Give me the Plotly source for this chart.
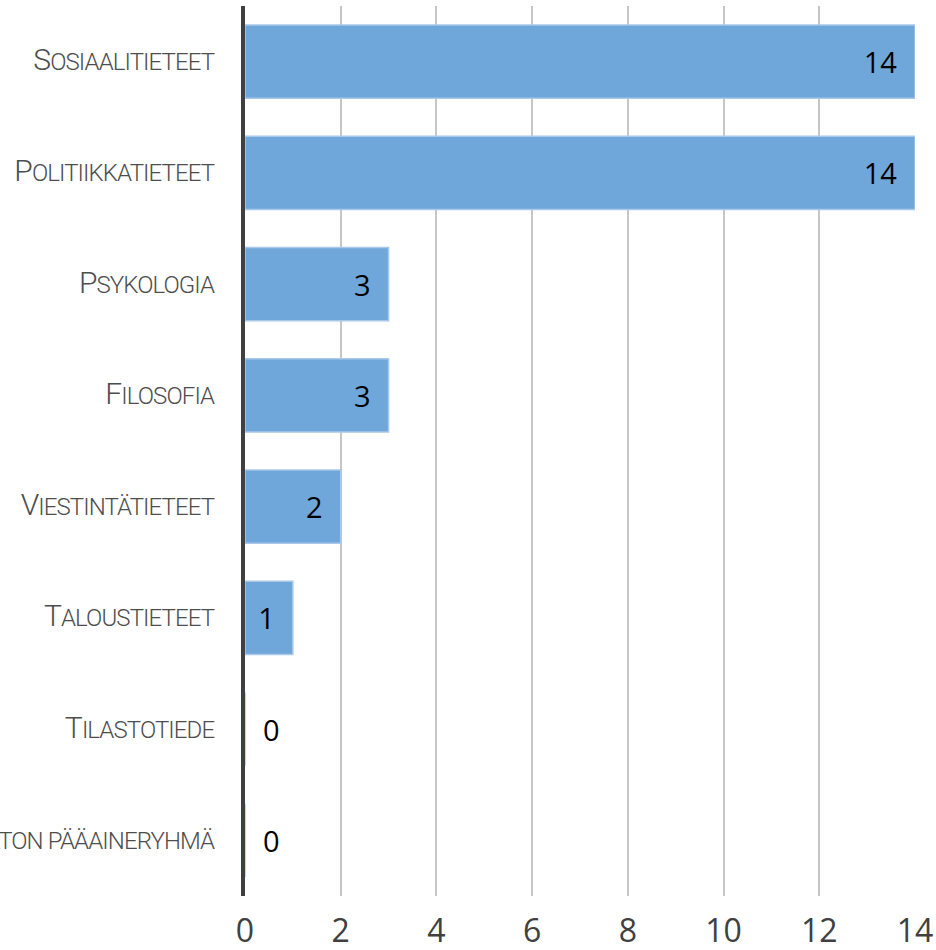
import plotly.graph_objects as go

# pääaineryhmät ja vastaajien määrät
categories = ["Sosiaalitieteet", "Politiikkatieteet", "Psykologia", "Filosofia",
              "Viestintätieteet", "Taloustieteet", "Tilastotiede",
              "Tuntematon pääaineryhmä"]
counts = [14, 14, 3, 3, 2, 1, 0, 0]
x_ticks = [0, 2, 4, 6, 8, 10, 12, 14]


def small_caps(s):
    # iso alkukirjain, loput pienempinä versaaleina
    return ("<span style='font-size:30px;letter-spacing:-0.9px'>" + s[0].upper()
            + "</span><span style='letter-spacing:-0.9px'>" + s[1:].upper()
            + "</span>")


nb = "\u00a0"
labels = []
positions = []
for v in counts:
    if v > 0:
        labels.append(str(v) + nb * 2)
        positions.append("inside")
    else:
        labels.append(nb * 2 + str(v))
        positions.append("outside")

fig = go.Figure()
fig.add_trace(go.Bar(
    y=categories, x=counts, orientation="h",
    marker=dict(color="#6fa7db", line=dict(color="#a9c8ea", width=1.5)),
    width=0.66,
    text=labels, textposition=positions, insidetextanchor="end",
    textfont=dict(family="Open Sans", size=29, color="#000000"),
    cliponaxis=False,
))

fig.update_layout(
    width=936, height=950,
    margin=dict(l=245, r=21, t=6, b=54),
    plot_bgcolor="white", paper_bgcolor="white",
    showlegend=False,
)

fig.update_xaxes(
    range=[0, 14], tickvals=x_ticks, showgrid=True, gridcolor="#c6c6c6",
    gridwidth=1.5, zeroline=False, showline=False, automargin=False,
    tickfont=dict(family="Open Sans", size=32, color="#404040"),
    ticklabelstandoff=13,
)
fig.update_yaxes(
    autorange="reversed", showline=True, linecolor="#404040", linewidth=4,
    tickvals=categories, ticktext=[small_caps(c) for c in categories],
    tickfont=dict(family="Roboto", size=24, color="#4d4d4d", weight=300),
    ticklabelstandoff=22, automargin=False, showgrid=False,
)

# body-marginaali pois, jotta kuva täyttää ikkunan
fig.write_html("out.html", config={"displayModeBar": False},
               post_script="document.body.style.margin='0';")
